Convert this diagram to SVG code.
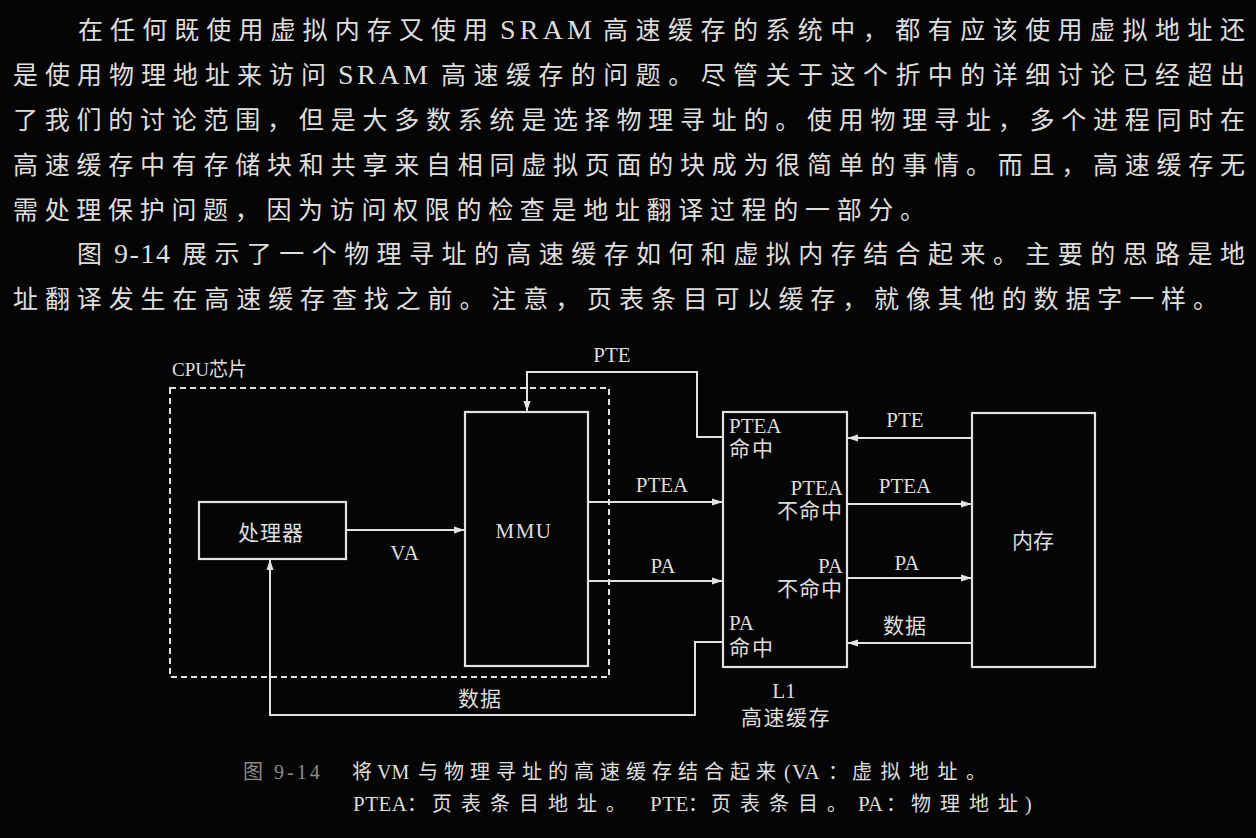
<svg xmlns="http://www.w3.org/2000/svg" width="1256" height="838" viewBox="0 0 1256 838">
<defs>
<style>
.t{font-family:"Liberation Serif","Noto Sans CJK SC",serif;fill:#dedede}
.p{font-size:25px}
.lat{font-size:28px}
.c{font-size:20px}
.l{font-size:21px}
.box{fill:none;stroke:#e2e2e2;stroke-width:2.2}
.ln{fill:none;stroke:#e2e2e2;stroke-width:2}
.m{text-anchor:middle}
.e{text-anchor:end}
</style>
<marker id="ah" markerUnits="userSpaceOnUse" markerWidth="12" markerHeight="10" refX="11" refY="5" orient="auto">
<path d="M0,1.5 L11,5 L0,8.5 Z" fill="#e2e2e2"/>
</marker>
</defs>
<rect width="1256" height="838" fill="#050505"/>

<g id="paragraph">
<text class="t p" y="39"><tspan x="78" textLength="410" lengthAdjust="spacing">在任何既使用虚拟内存又使用</tspan><tspan class="lat" x="500" textLength="92" lengthAdjust="spacing">SRAM</tspan><tspan x="603" textLength="642" lengthAdjust="spacing">高速缓存的系统中，都有应该使用虚拟地址还</tspan></text>
<text class="t p" y="84"><tspan x="13" textLength="313" lengthAdjust="spacing">是使用物理地址来访问</tspan><tspan class="lat" x="338" textLength="90" lengthAdjust="spacing">SRAM</tspan><tspan x="441" textLength="804" lengthAdjust="spacing">高速缓存的问题。尽管关于这个折中的详细讨论已经超出</tspan></text>
<text class="t p" x="13" y="129" textLength="1232" lengthAdjust="spacing">了我们的讨论范围，但是大多数系统是选择物理寻址的。使用物理寻址，多个进程同时在</text>
<text class="t p" x="13" y="174" textLength="1232" lengthAdjust="spacing">高速缓存中有存储块和共享来自相同虚拟页面的块成为很简单的事情。而且，高速缓存无</text>
<text class="t p" x="13" y="219" textLength="912" lengthAdjust="spacing">需处理保护问题，因为访问权限的检查是地址翻译过程的一部分。</text>
<text class="t p" y="263"><tspan x="77">图</tspan><tspan class="lat" x="114" textLength="56" lengthAdjust="spacing">9-14</tspan><tspan x="182" textLength="1063" lengthAdjust="spacing">展示了一个物理寻址的高速缓存如何和虚拟内存结合起来。主要的思路是地</tspan></text>
<text class="t p" x="13" y="308" textLength="1205" lengthAdjust="spacing">址翻译发生在高速缓存查找之前。注意，页表条目可以缓存，就像其他的数据字一样。</text>
</g>

<g id="cpu-chip">
<rect x="170" y="388" width="439" height="289" fill="none" stroke="#e2e2e2" stroke-width="2" stroke-dasharray="6 4"/>
<text class="t" x="172" y="376" font-size="19">CPU芯片</text>
</g>

<g id="processor">
<rect class="box" x="199" y="502" width="147" height="57"/>
<text class="t l m" x="271" y="540" font-size="22" letter-spacing="1">处理器</text>
</g>

<g id="mmu">
<rect class="box" x="465" y="412" width="123" height="254"/>
<text class="t l m" x="524" y="538" letter-spacing="1.5">MMU</text>
</g>

<g id="l1-cache">
<rect class="box" x="723" y="412" width="124" height="255"/>
<text class="t l" x="729" y="433">PTEA</text>
<text class="t l" x="729" y="456" letter-spacing="2">命中</text>
<text class="t l e" x="843" y="495">PTEA</text>
<text class="t l e" x="843" y="518" letter-spacing="1">不命中</text>
<text class="t l e" x="843" y="573">PA</text>
<text class="t l e" x="843" y="596" letter-spacing="1">不命中</text>
<text class="t l" x="729" y="630">PA</text>
<text class="t l" x="729" y="655" letter-spacing="2">命中</text>
<text class="t l m" x="784" y="698">L1</text>
<text class="t l m" x="786" y="725" letter-spacing="1.5">高速缓存</text>
</g>

<g id="memory">
<rect class="box" x="972" y="413" width="123" height="254"/>
<text class="t l m" x="1033" y="548">内存</text>
</g>

<g id="connectors">
<line class="ln" x1="346" y1="530" x2="465" y2="530" marker-end="url(#ah)"/>
<text class="t l m" x="405" y="560" letter-spacing="1">VA</text>
<path class="ln" d="M723,437 H697 V372 H527 V412" marker-end="url(#ah)"/>
<text class="t l m" x="612" y="362">PTE</text>
<line class="ln" x1="588" y1="502" x2="723" y2="502" marker-end="url(#ah)"/>
<text class="t l m" x="662" y="492">PTEA</text>
<line class="ln" x1="588" y1="581" x2="723" y2="581" marker-end="url(#ah)"/>
<text class="t l m" x="663" y="573">PA</text>
<path class="ln" d="M723,642 H695 V715 H270 V559" marker-end="url(#ah)"/>
<text class="t l m" x="480" y="706" letter-spacing="1">数据</text>
<line class="ln" x1="972" y1="438" x2="847" y2="438" marker-end="url(#ah)"/>
<text class="t l m" x="905" y="427">PTE</text>
<line class="ln" x1="847" y1="504" x2="972" y2="504" marker-end="url(#ah)"/>
<text class="t l m" x="905" y="493">PTEA</text>
<line class="ln" x1="847" y1="578" x2="972" y2="578" marker-end="url(#ah)"/>
<text class="t l m" x="907" y="570">PA</text>
<line class="ln" x1="972" y1="643" x2="847" y2="643" marker-end="url(#ah)"/>
<text class="t l m" x="905" y="633" letter-spacing="1">数据</text>
</g>

<g id="caption">
<text class="t c" x="243" y="779" style="fill:#8a8a8a" font-size="21" letter-spacing="3">图 9-14</text>
<text class="t c" y="779"><tspan x="352">将</tspan><tspan x="377">VM</tspan><tspan x="418" letter-spacing="6">与物理寻址的高速缓存结合起来</tspan><tspan x="784">(</tspan><tspan x="792" font-size="21">VA</tspan><tspan x="828">：</tspan><tspan x="852" letter-spacing="8.5">虚拟地址。</tspan></text>
<text class="t c" y="811"><tspan x="353" font-size="21" letter-spacing="0.5">PTEA</tspan><tspan x="407">：</tspan><tspan x="432" letter-spacing="9">页表条目地址。</tspan><tspan x="650" font-size="21" letter-spacing="0.5">PTE</tspan><tspan x="688">：</tspan><tspan x="711" letter-spacing="9">页表条目。</tspan><tspan x="858" font-size="21">PA</tspan><tspan x="886">：</tspan><tspan x="911" letter-spacing="9">物理地址</tspan><tspan x="1025">)</tspan></text>
</g>
</svg>
